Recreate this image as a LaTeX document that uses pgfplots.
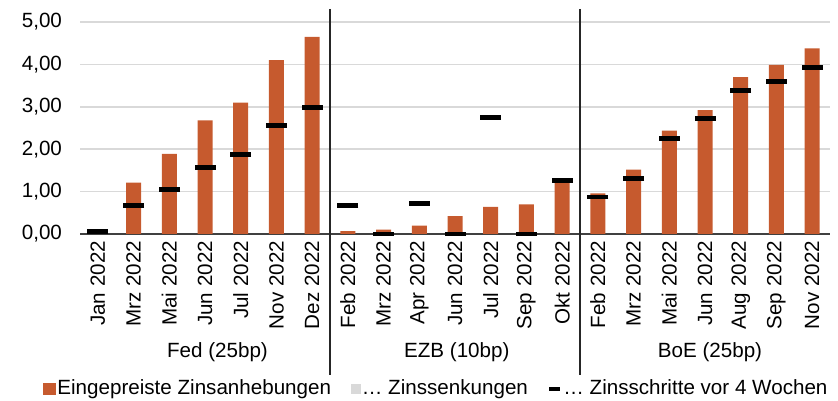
\documentclass[border=0pt]{standalone}
\usepackage{pgfplots}
\pgfplotsset{compat=1.18}
\usepackage{fontspec}
\setmainfont{Liberation Sans}
\definecolor{barC}{HTML}{C65A2E}
\definecolor{gridC}{HTML}{D9D9D9}
\definecolor{grayL}{HTML}{D9D9D9}
\newcommand\f{\fontsize{10.3}{12.4}\selectfont}
\begin{document}
\begin{tikzpicture}
\begin{axis}[
  scale only axis, width=375pt, height=106pt,
  xmin=-0.5, xmax=20.5, ymin=0, ymax=5,
  clip=false,
  axis x line*=bottom, axis y line*=left,
  x axis line style={draw=black!75, line width=0.6pt},
  y axis line style={draw=none},
  ytick={0,1,2,3,4,5},
  ymajorgrids, grid style={gridC, line width=0.8pt},
  ytick style={draw=none},
  /pgf/number format/assume math mode=true,
  yticklabel style={font=\f, xshift=-5.5pt, /pgf/number format/.cd, fixed, fixed zerofill, precision=2, use comma},
  xtick={0,...,20},
  xticklabels={Jan 2022,Mrz 2022,Mai 2022,Jun 2022,Jul 2022,Nov 2022,Dez 2022,
               Feb 2022,Mrz 2022,Apr 2022,Jun 2022,Jul 2022,Sep 2022,Okt 2022,
               Feb 2022,Mrz 2022,Mai 2022,Jun 2022,Aug 2022,Sep 2022,Nov 2022},
  xticklabel style={font=\f, rotate=90, anchor=east},
  xtick style={draw=none},
  extra x ticks={-0.5,0.5,...,20.5},
  extra x tick labels={},
  extra x tick style={tick align=outside, major tick length=2.8pt, tick style={draw=black!75, line width=0.6pt}, grid=none},
  legend columns=3,
  legend style={draw=none, fill=none, font=\f, at={(rel axis cs:0.4747,-0.731)}, anchor=center,
    /tikz/every even column/.append style={column sep=9pt},
    nodes={inner xsep=0.8pt},
    inner sep=0pt},
]
\addplot[ybar, bar width=7.5pt, fill=barC, draw=none,
  legend image code/.code={\fill[barC] (0pt,-3.2pt) rectangle (6.4pt,3.2pt);}]
  coordinates {
  (0,0.05) (1,1.21) (2,1.89) (3,2.68) (4,3.10) (5,4.10) (6,4.65)
  (7,0.07) (8,0.10) (9,0.20) (10,0.42) (11,0.64) (12,0.70) (13,1.24)
  (14,0.96) (15,1.52) (16,2.44) (17,2.92) (18,3.70) (19,3.99) (20,4.38)};
\addlegendentry{Eingepreiste Zinsanhebungen}
\addlegendimage{legend image code/.code={\fill[grayL] (1pt,-2.2pt) rectangle (5.4pt,2.2pt);}}
\addlegendentry{… Zinssenkungen}
\addplot[only marks, mark=-, mark size=5.25pt, mark options={line width=2.4pt, black},
  legend image code/.code={\draw[line width=1.6pt] (0.5pt,0pt) -- (6pt,0pt);}]
  coordinates {
  (0,0.05) (1,0.68) (2,1.05) (3,1.57) (4,1.88) (5,2.56) (6,2.99)
  (7,0.68) (8,0.00) (9,0.72) (10,0.00) (11,2.75) (12,0.00) (13,1.27)
  (14,0.87) (15,1.31) (16,2.26) (17,2.73) (18,3.39) (19,3.60) (20,3.93)};
\addlegendentry{… Zinsschritte vor 4 Wochen}
\draw[black!85, line width=0.6pt] (axis cs:6.5,5.31) -- (axis cs:6.5,-3.33);
\draw[black!85, line width=0.6pt] (axis cs:13.5,5.31) -- (axis cs:13.5,-3.33);
\node[font=\f] at (axis cs:3.35,-2.78) {Fed (25bp)};
\node[font=\f] at (axis cs:10.05,-2.78) {EZB (10bp)};
\node[font=\f] at (axis cs:17.14,-2.78) {BoE (25bp)};
\coordinate (bbSW) at (rel axis cs:-0.10667,-0.78774);
\coordinate (bbNE) at (rel axis cs:1.01067,1.10377);
\end{axis}
\pgfresetboundingbox
\path[use as bounding box] (bbSW) rectangle (bbNE);
\end{tikzpicture}
\end{document}
